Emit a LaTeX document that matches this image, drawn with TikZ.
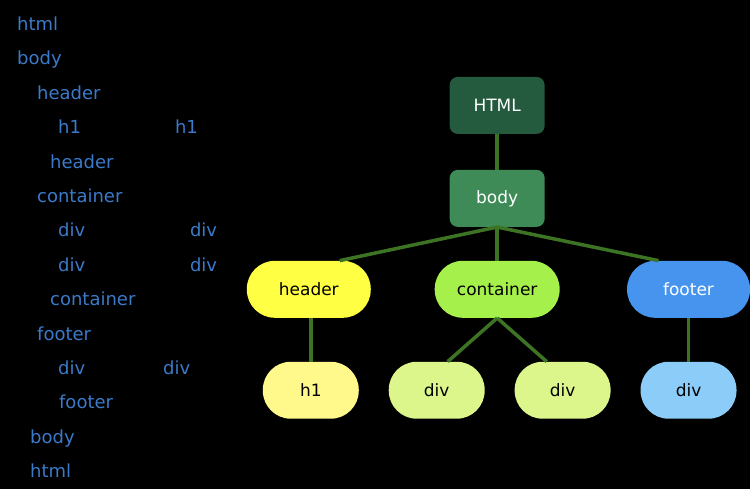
\documentclass[tikz,border=0pt]{standalone}
\usepackage{fontspec}
\setmainfont{DejaVu Sans}
\usepackage{xcolor}

\definecolor{rootgreen}{HTML}{245A3E}
\definecolor{bodygreen}{HTML}{3E8B57}
\definecolor{headyellow}{HTML}{FFFF44}
\definecolor{contlime}{HTML}{A6F04B}
\definecolor{footblue}{HTML}{4794EF}
\definecolor{hyellow}{HTML}{FFF98C}
\definecolor{divlime}{HTML}{DDF68C}
\definecolor{divblue}{HTML}{8CCCF9}
\definecolor{linkgreen}{HTML}{3D7424}
\definecolor{tagblue}{HTML}{3B7AC9}

\tikzset{
	box/.style={fill=#1, rounded corners=8pt, minimum width=95pt, minimum height=57pt, text=white, font=\fontsize{17}{20}\selectfont},
	pill/.style={fill=#1, rounded corners=28pt, minimum height=57pt, text=black, font=\fontsize{17}{20}\selectfont},
	link/.style={draw=linkgreen, line width=3.5pt},
	tag/.style={anchor=base west, inner sep=0pt, text=tagblue, font=\fontsize{18}{21}\selectfont}
}

\begin{document}
\begin{tikzpicture}[x=1pt,y=-1pt]
	\fill[black] (0,0) rectangle (750,489);
	
	% source on the left
	\node[tag] (t1) at (17,31) {html};
	\node[tag] (t2) at (17,65) {body};
	\node[tag] (t3) at (37,100) {header};
	\node[tag] (t4) at (58,134) {h1};
	\node[tag] (t4b) at (175,134) {h1};
	\node[tag] (t5) at (50,169) {header};
	\node[tag] (t6) at (37,203) {container};
	\node[tag] (t7) at (58,237) {div};
	\node[tag] (t7b) at (190,237) {div};
	\node[tag] (t8) at (58,272) {div};
	\node[tag] (t8b) at (190,272) {div};
	\node[tag] (t9) at (50,306) {container};
	\node[tag] (t10) at (37,341) {footer};
	\node[tag] (t11) at (58,375) {div};
	\node[tag] (t11b) at (163,375) {div};
	\node[tag] (t12) at (59,409) {footer};
	\node[tag] (t13) at (30,444) {body};
	\node[tag] (t14) at (30,478) {html};
	
	% tree
	\node[box=rootgreen] (html) at (497.5,105.5) {HTML};
	\node[box=bodygreen] (body) at (497.5,198.5) {body};
	
	\node[pill=headyellow, minimum width=124pt] (header) at (309,289.5) {header};
	\node[pill=contlime, minimum width=125pt] (container) at (497.5,289.5) {container};
	\node[pill=footblue, minimum width=123pt, text=white] (footer) at (689,289.5) {footer};
	
	\node[pill=hyellow, minimum width=96pt] (h1) at (311,390.5) {h1};
	\node[pill=divlime, minimum width=96pt] (div1) at (437,390.5) {div};
	\node[pill=divlime, minimum width=96pt] (div2) at (563,390.5) {div};
	\node[pill=divblue, minimum width=96pt] (div3) at (689,390.5) {div};
	
	\draw[link] (html) -- (body);
	\draw[link] (body.south) -- ([xshift=31pt]header.north);
	\draw[link] (body.south) -- (container.north);
	\draw[link] (body.south) -- ([xshift=-30pt]footer.north);
	\draw[link] ([xshift=2pt]header.south) -- (h1.north);
	\draw[link] (container.south) -- ([xshift=11pt]div1.north);
	\draw[link] (container.south) -- ([xshift=-16pt]div2.north);
	\draw[link] (footer.south) -- (div3.north);
	
\end{tikzpicture}
\end{document}
